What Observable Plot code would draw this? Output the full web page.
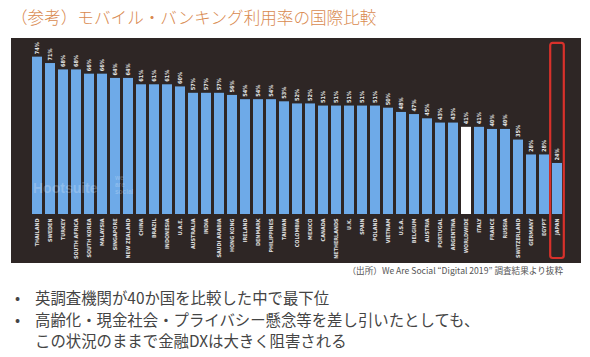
<!DOCTYPE html>
<html>
<head>
<meta charset="utf-8">
<script src="https://cdn.jsdelivr.net/npm/d3@7"></script>
<script src="https://cdn.jsdelivr.net/npm/@observablehq/plot@0.6"></script>
<style>
  html, body { margin: 0; padding: 0; background: #ffffff; }
  #page { position: relative; width: 590px; height: 357px; overflow: hidden; font-family: "Noto Sans CJK JP", "Noto Sans", sans-serif; }
  #title { position: absolute; left: 11px; top: 5px; font-size: 16.6px; color: #d98a4f; white-space: nowrap; line-height: 24px; font-weight: 300; }
  #chart { position: absolute; left: 11px; top: 38px; }
  #caption { position: absolute; right: 27px; top: 263px; font-size: 8.6px; color: #555; white-space: nowrap; line-height: 14px; }
  .bullet { position: absolute; left: 35px; font-size: 15.4px; color: #444; white-space: nowrap; line-height: 20px; }
  .dot { position: absolute; left: 15px; font-size: 15px; color: #444; line-height: 20px; }
  .wm { position: absolute; color: rgba(255,255,255,0.22); font-family: "Liberation Sans", sans-serif; font-weight: bold; white-space: nowrap; }
</style>
</head>
<body>
<div id="page">
  <div id="title">（参考）モバイル・バンキング利用率の国際比較</div>
  <div id="chart"></div>
  <div class="wm" style="left:33px; top:180px; font-size:14px; line-height:16px;">Hootsuite</div>
  <div class="wm" style="left:115px; top:174px; font-size:6.5px; line-height:7px;">we</div>
  <div class="wm" style="left:115px; top:181px; font-size:6.5px; line-height:7px;">are</div>
  <div class="wm" style="left:115px; top:188px; font-size:6.5px; line-height:7px;">social</div>
  <div id="caption">（出所）We Are Social “Digital 2019” 調査結果より抜粋</div>
  <div class="dot" style="top:287px;">•</div>
  <div class="bullet" style="top:287px;">英調査機関が40か国を比較した中で最下位</div>
  <div class="dot" style="top:309px;">•</div>
  <div class="bullet" style="top:309px;">高齢化・現金社会・プライバシー懸念等を差し引いたとしても、</div>
  <div class="bullet" style="top:330px;">この状況のままで金融DXは大きく阻害される</div>
</div>
<script>
const countries = ["THAILAND","SWEDEN","TURKEY","SOUTH AFRICA","SOUTH KOREA","MALAYSIA","SINGAPORE","NEW ZEALAND","CHINA","BRAZIL","INDONESIA","U.A.E.","AUSTRALIA","INDIA","SAUDI ARABIA","HONG KONG","IRELAND","DENMARK","PHILIPPINES","TAIWAN","COLOMBIA","MEXICO","CANADA","NETHERLANDS","U.K.","SPAIN","POLAND","VIETNAM","U.S.A.","BELGIUM","AUSTRIA","PORTUGAL","ARGENTINA","WORLDWIDE","ITALY","FRANCE","RUSSIA","SWITZERLAND","GERMANY","EGYPT","JAPAN"];
const values = [74,71,68,68,66,66,64,64,61,61,61,60,57,57,57,56,54,54,54,53,52,52,51,51,51,51,51,50,48,47,45,43,43,41,41,40,40,35,28,28,24];
const highlighted = ["JAPAN"];
const reference = "WORLDWIDE";

const data = countries.map((c, i) => ({country: c, value: values[i]}));

const narrow = "'Liberation Sans Narrow', 'DejaVu Sans Condensed', sans-serif";

const chart = Plot.plot({
  width: 570,
  height: 225,
  marginLeft: 7.6,
  marginRight: 6.6,
  marginTop: 5.9,
  marginBottom: 49,
  x: {domain: countries, padding: 0.25, axis: null},
  y: {domain: [0, 80], axis: null},
  style: {background: "#2e2625", overflow: "visible"},
  marks: [
    Plot.barY(data, {
      x: "country", y: "value",
      fill: d => d.country === reference ? "#ffffff" : "#6eaae8"
    }),
    Plot.text(data, {
      x: "country", y: "value", text: d => d.value + "%",
      rotate: -90, textAnchor: "start", dy: -3,
      fill: "#e8e8e8", fontSize: 5.6, fontWeight: "bold", fontFamily: narrow
    }),
    Plot.text(data, {
      x: "country", y: 0, text: "country",
      rotate: -90, textAnchor: "end", dy: 4,
      fill: "#e0e0e0", fontSize: 5.4, fontWeight: "bold", fontFamily: narrow
    }),
    Plot.cell(highlighted, {
      x: d => d, fill: "none", stroke: "#d8312b", strokeWidth: 2.2, rx: 2.5,
      insetLeft: -1.8, insetRight: -1.8, insetTop: -1, insetBottom: -44
    })
  ]
});
document.getElementById("chart").appendChild(chart);
</script>
</body>
</html>
